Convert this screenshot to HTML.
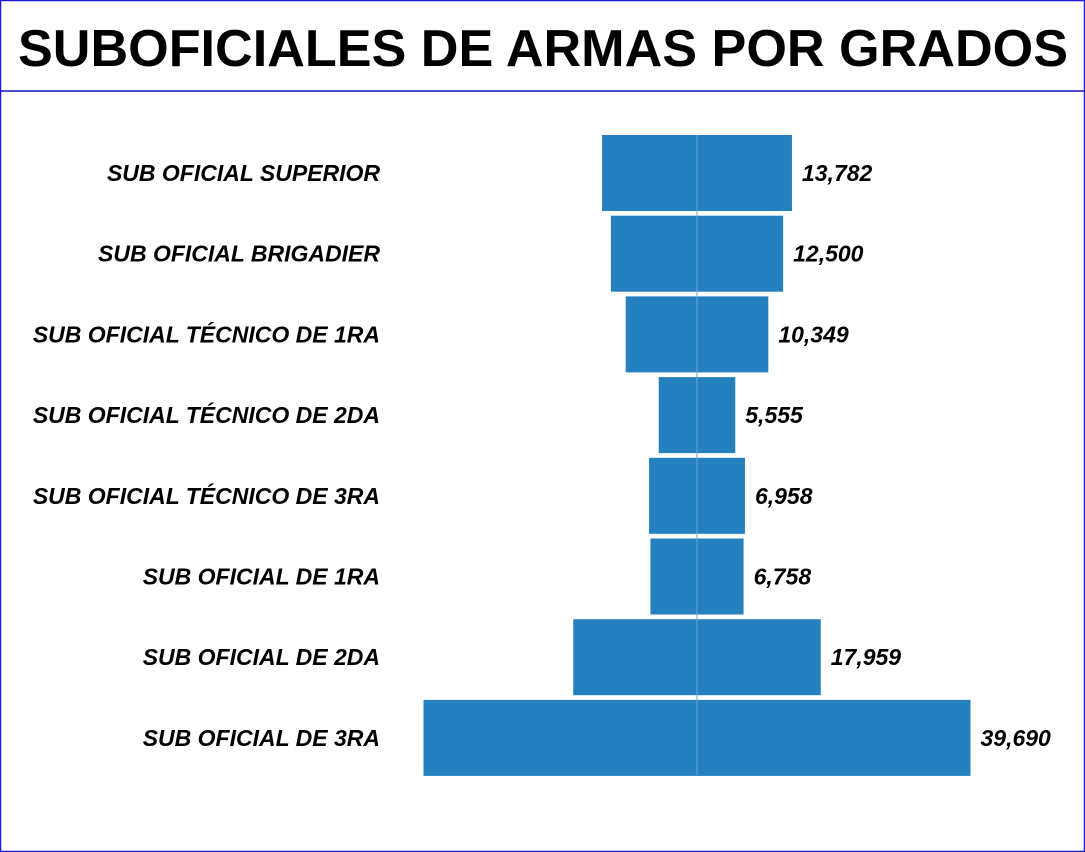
<!DOCTYPE html>
<html><head><meta charset="utf-8"><style>
body{margin:0;background:#fff}
svg{display:block;font-family:"Liberation Sans",sans-serif}
</style></head><body>
<svg width="1085" height="852" viewBox="0 0 1085 852">
<rect x="0.5" y="0.5" width="1084" height="851" fill="#fff" stroke="#1a1adf" stroke-width="1.5"/>
<line x1="0" y1="91" x2="1085" y2="91" stroke="#1010c0" stroke-width="1.5"/>
<text x="18" y="66" font-size="52" font-weight="bold" fill="#000" textLength="1050" lengthAdjust="spacingAndGlyphs">SUBOFICIALES DE ARMAS POR GRADOS</text>
<g id="bars"></g>
<line x1="697" y1="135" x2="697" y2="775" stroke="#6aa6d6" stroke-width="1"/>
</svg>
<script>
const categories=["SUB OFICIAL SUPERIOR","SUB OFICIAL BRIGADIER","SUB OFICIAL TÉCNICO DE 1RA","SUB OFICIAL TÉCNICO DE 2DA","SUB OFICIAL TÉCNICO DE 3RA","SUB OFICIAL DE 1RA","SUB OFICIAL DE 2DA","SUB OFICIAL DE 3RA"];
const values=[13782,12500,10349,5555,6958,6758,17959,39690];
const valueLabels=["13,782","12,500","10,349","5,555","6,958","6,758","17,959","39,690"];
const cx=697, scale=547/39690, top0=135, pitch=80.7, barH=76;
const xw=v=>v*scale;
const yPos=i=>top0+i*pitch;
const g=document.getElementById('bars');
const NS="http://www.w3.org/2000/svg";
values.forEach((v,i)=>{
  const w=xw(v), y=yPos(i);
  const r=document.createElementNS(NS,'rect');
  r.setAttribute('x',cx-w/2);r.setAttribute('y',y);r.setAttribute('width',w);r.setAttribute('height',barH);
  r.setAttribute('fill','#2580c0');
  
  
  g.appendChild(r);
  const l=document.createElementNS(NS,'text');
  l.setAttribute('x',380);l.setAttribute('y',y+barH/2+8);l.setAttribute('text-anchor','end');
  l.setAttribute('font-size','23');l.setAttribute('font-weight','bold');l.setAttribute('font-style','italic');
  l.textContent=categories[i];
  
  
  g.appendChild(l);
  const t=document.createElementNS(NS,'text');
  t.setAttribute('x',cx+w/2+10);t.setAttribute('y',y+barH/2+8);
  t.setAttribute('font-size','23');t.setAttribute('font-weight','bold');t.setAttribute('font-style','italic');
  t.textContent=valueLabels[i];
  
  
  g.appendChild(t);
});
</script>
</body></html>
